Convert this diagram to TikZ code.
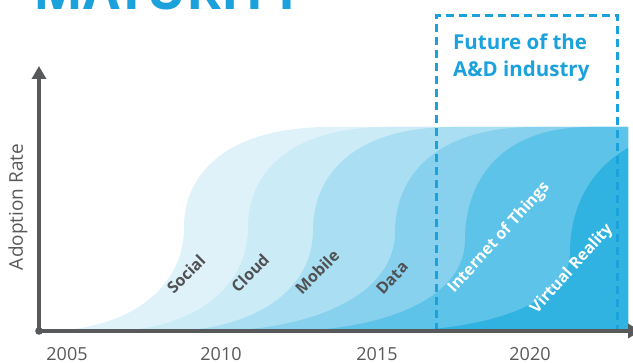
\documentclass[tikz,border=0pt]{standalone}
\usepackage{fontspec}
\setmainfont{Open Sans}
\usetikzlibrary{arrows.meta}
\definecolor{axisgray}{HTML}{58595B}
\definecolor{labelgray}{HTML}{505153}
\definecolor{titleblue}{HTML}{1BA1DC}
\definecolor{wSocial}{HTML}{DFF2FA}
\definecolor{wCloud}{HTML}{CBEBF7}
\definecolor{wMobile}{HTML}{AADFF3}
\definecolor{wData}{HTML}{88D1EE}
\definecolor{wIoT}{HTML}{5DC3E8}
\definecolor{wVR}{HTML}{30B3E1}
\newcommand\wavefill[5]{%
  \fill[#5] ({#1-#3},331) .. controls ({#1-0.42*#3},328) and (#1,{#2+0.6*(331-#2)}) .. (#1,#2)
    .. controls (#1,{#2-0.52*(#2-127)}) and ({#1+0.28*#4},127) .. ({#1+#4},127)
    -- (760,127) -- (760,331) -- cycle;}
\tikzset{
  axisline/.style={draw=axisgray, line width=3.6pt},
  yearlabel/.style={text=axisgray, font=\fontsize{18}{18}\selectfont, inner sep=0pt},
  wavelabel/.style={text=labelgray, font=\bfseries\fontsize{16}{16}\selectfont, inner sep=0pt},
  wavelabelw/.style={text=white, font=\bfseries\fontsize{16}{16}\selectfont, inner sep=0pt},
  futurebox/.style={draw=titleblue, line width=3pt, dash pattern=on 8pt off 5pt},
  futuretext/.style={text=titleblue, font=\bfseries\fontsize{20.5}{20.5}\selectfont, inner sep=0pt, anchor=base west}
}
\begin{document}
\begin{tikzpicture}[x=1pt,y=-1pt]
\useasboundingbox (0,0) rectangle (633,363);
% cut-off title
\node[anchor=base west, inner sep=0pt, text=titleblue, font=\bfseries\fontsize{53}{53}\selectfont] (title) at (33,10) {MATURITY};
% waves
\begin{scope}
  \clip (0,127) rectangle (628,331);
  \wavefill{184}{227}{132}{146}{wSocial}
  \wavefill{248}{227}{132}{140}{wCloud}
  \wavefill{313}{230}{138}{140}{wMobile}
  \wavefill{395}{232}{175}{140}{wData}
  \wavefill{465}{240}{170}{125}{wIoT}
  \wavefill{570}{253}{170}{150}{wVR}
\end{scope}
% future box
\node[draw=none, inner sep=0pt, minimum width=181pt, minimum height=315pt, anchor=north west] (fbox) at (436,16) {};
\draw[futurebox] (fbox.south west) rectangle (fbox.north east);
\node[futuretext] (f1) at (453,50) {Future of the};
\node[futuretext] (f2) at (453,77) {A\&D industry};
% axes
\coordinate (origin) at (39,331);
\coordinate (ytip) at (39,66);
\coordinate (xtip) at (641,331);
\draw[axisline, -{Triangle[width=14pt,length=13pt]}] (origin) -- (ytip);
\draw[axisline, -{Triangle[width=14pt,length=13pt]}] (origin) -- (xtip);
\fill[axisgray] (origin) circle (3.8pt);
% axis labels
\node[yearlabel, rotate=90, font=\fontsize{19}{19}\selectfont] (ylab) at (18,207) {Adoption Rate};
\node[yearlabel] (y2005) at (67,354) {2005};
\node[yearlabel] (y2010) at (221,354) {2010};
\node[yearlabel] (y2015) at (377,354) {2015};
\node[yearlabel] (y2020) at (530,354) {2020};
% wave labels
\node[wavelabel, rotate=45] (lSocial) at (186,274) {Social};
\node[wavelabel, rotate=45] (lCloud) at (250,273) {Cloud};
\node[wavelabel, rotate=45] (lMobile) at (317,272) {Mobile};
\node[wavelabel, rotate=47] (lData) at (392,278) {Data};
\node[wavelabelw, rotate=48] (lIoT) at (499,238) {Internet of Things};
\node[wavelabelw, rotate=48] (lVR) at (572,269) {Virtual Reality};
\end{tikzpicture}
\end{document}
